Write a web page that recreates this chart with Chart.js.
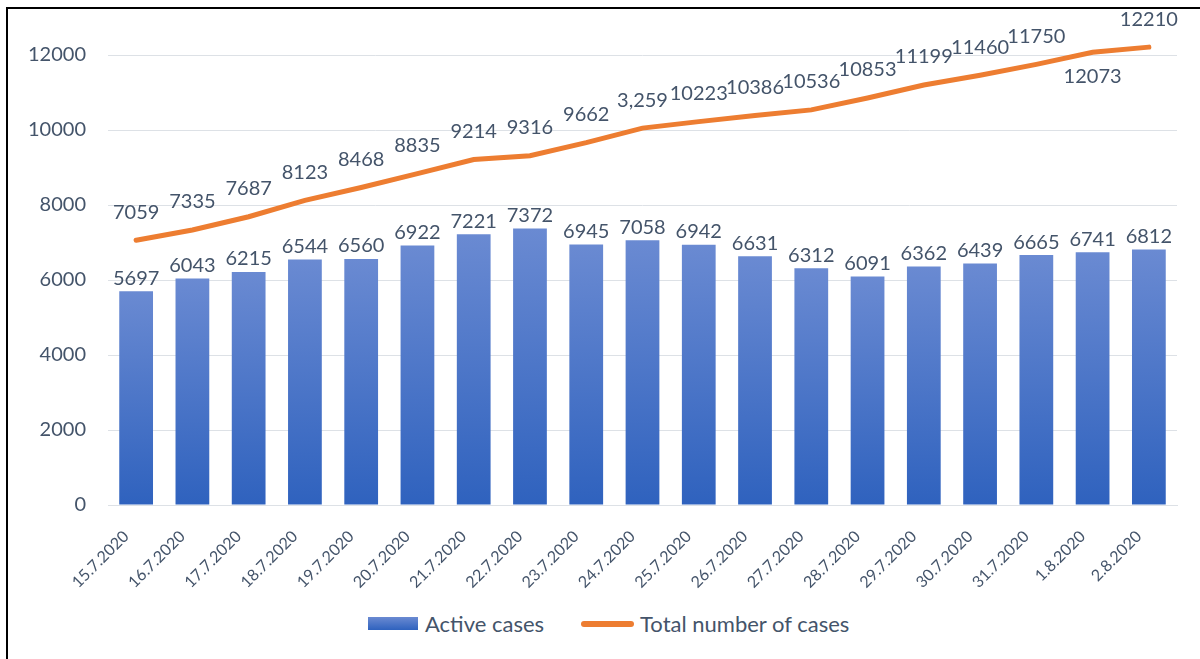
<!DOCTYPE html>
<html>
<head>
<meta charset="utf-8">
<script src="https://cdn.jsdelivr.net/npm/chart.js@4/dist/chart.umd.min.js"></script>
<style>
  body { margin: 0; background: #fff; font-family: Lato, "Open Sans", sans-serif; }
  #wrap { position: relative; width: 1200px; height: 659px; overflow: hidden; }
  #frame { position: absolute; left: 6px; top: 7px; width: 1300px; height: 800px;
           border-left: 2px solid #000; border-top: 2px solid #000; }
  #chart { position: absolute; left: 0; top: 0; }
  #legend { position: absolute; top: 610px; left: 368px; display: flex; align-items: center;
            color: #44546a; font-size: 22px; }
  .sw-bar { width: 50px; height: 13px; background: linear-gradient(#6a8ad2, #2f62be); margin-right: 7px; }
  .sw-line { width: 53px; height: 6px; border-radius: 3px; background: #ed7d31; margin: 0 6px 0 37px; }
</style>
</head>
<body>
<div id="wrap">
  <div id="frame"></div>
  <canvas id="chart" width="1200" height="600"></canvas>
  <div id="legend">
    <div class="sw-bar"></div><span>Active cases</span>
    <div class="sw-line"></div><span>Total number of cases</span>
  </div>
</div>
<script>
// dates on the x axis
const days = ['15.7.2020', '16.7.2020', '17.7.2020', '18.7.2020', '19.7.2020', '20.7.2020',
    '21.7.2020', '22.7.2020', '23.7.2020', '24.7.2020', '25.7.2020', '26.7.2020', '27.7.2020',
    '28.7.2020', '29.7.2020', '30.7.2020', '31.7.2020', '1.8.2020', '2.8.2020'];

// bars
const activeCases = [5697, 6043, 6215, 6544, 6560, 6922, 7221, 7372, 6945, 7058,
    6942, 6631, 6312, 6091, 6362, 6439, 6665, 6741, 6812];

// line (24.7 point is labelled "3,259" in the original)
const totalCases = [7059, 7335, 7687, 8123, 8468, 8835, 9214, 9316, 9662, 10050,
    10223, 10386, 10536, 10853, 11199, 11460, 11750, 12073, 12210];
const totalLabels = ['7059', '7335', '7687', '8123', '8468', '8835', '9214', '9316', '9662', '3,259',
    '10223', '10386', '10536', '10853', '11199', '11460', '11750', '12073', '12210'];

const yTicks = [0, 2000, 4000, 6000, 8000, 10000, 12000];

const textColor = '#44546a';
const labelFont = '20px Lato, "Open Sans", sans-serif';

// value labels above bars and line points
const valueLabels = {
    id: 'valueLabels',
    afterDatasetsDraw(chart) {
        let ctx = chart.ctx;
        ctx.save();
        ctx.font = labelFont;
        ctx.fillStyle = textColor;
        ctx.textAlign = 'center';

        let bars = chart.getDatasetMeta(0).data;
        ctx.textBaseline = 'bottom';
        bars.forEach((bar, i) => {
            ctx.fillText(String(activeCases[i]), bar.x, bar.y - 3);
        });

        let points = chart.getDatasetMeta(1).data;
        ctx.textBaseline = 'middle';
        points.forEach((pt, i) => {
            // Excel put the 1.8 label below the line
            let dy = i === 17 ? 24 : -28;
            ctx.fillText(totalLabels[i], pt.x, pt.y + dy);
        });
        ctx.restore();
    }
};

function barGradient(context) {
    let chart = context.chart;
    let area = chart.chartArea;
    if (!area) return '#4472c4';
    let top = chart.scales.y.getPixelForValue(activeCases[context.dataIndex]);
    let g = chart.ctx.createLinearGradient(0, top, 0, area.bottom);
    g.addColorStop(0, '#6a8ad2');
    g.addColorStop(1, '#2f62be');
    return g;
}

let ctx = document.getElementById('chart').getContext('2d');
new Chart(ctx, {
    type: 'bar',
    data: {
        labels: days,
        datasets: [{
            type: 'bar',
            label: 'Active cases',
            data: activeCases,
            backgroundColor: barGradient,
            categoryPercentage: 1,
            barPercentage: 0.6,
            order: 1
        }, {
            type: 'line',
            label: 'Total number of cases',
            data: totalCases,
            borderColor: '#ed7d31',
            borderWidth: 5,
            borderCapStyle: 'round',
            pointRadius: 0,
            tension: 0,
            clip: false,
            order: 0
        }]
    },
    options: {
        responsive: false,
        animation: false,
        layout: { padding: { top: 55, right: 23, left: 0, bottom: 0 } },
        plugins: {
            legend: { display: false },
            tooltip: { enabled: false }
        },
        scales: {
            x: {
                grid: { display: false },
                border: { color: '#dde1e6', width: 1 },
                ticks: {
                    color: textColor,
                    font: { family: 'Lato', size: 16 },
                    minRotation: 45,
                    maxRotation: 45,
                    autoSkip: false,
                    labelOffset: -10,
                    padding: 14
                },
                afterFit(scale) { scale.height = 95; }
            },
            y: {
                min: 0,
                max: 12000,
                afterBuildTicks(scale) { scale.ticks = yTicks.map(v => ({ value: v })); },
                grid: { color: '#dde1e6', lineWidth: 1, drawTicks: false },
                border: { display: false },
                ticks: {
                    color: textColor,
                    font: { family: 'Lato', size: 20 },
                    padding: 22,
                    callback: (v) => String(v)
                },
                afterFit(scale) { scale.width = 108; }
            }
        }
    },
    plugins: [valueLabels]
});
</script>
</body>
</html>
